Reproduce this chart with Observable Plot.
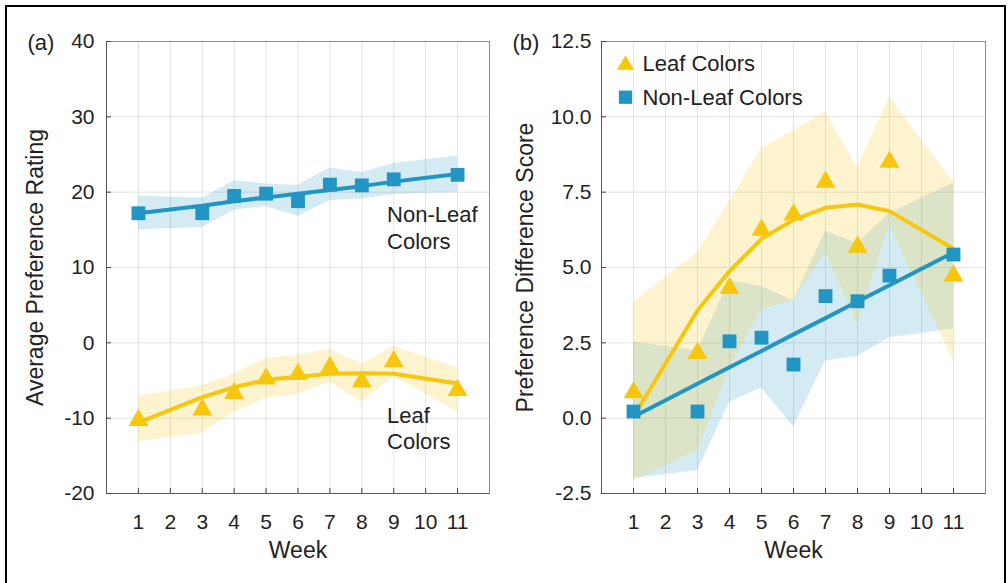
<!DOCTYPE html>
<html><head><meta charset="utf-8">
<script src="https://cdn.jsdelivr.net/npm/d3@7"></script>
<script src="https://cdn.jsdelivr.net/npm/@observablehq/plot@0.6"></script>
<style>
body{margin:0;background:#fff;}
#wrap{position:relative;width:1008px;height:583px;overflow:hidden;background:#fff;}
#border{position:absolute;left:5px;top:5px;width:997px;height:600px;border:2px solid #000;border-bottom:none;}
.panel{position:absolute;top:0;}
</style></head><body>
<div id="wrap"><div id="border"></div><div id="pa" class="panel" style="left:0px"></div><div id="pb" class="panel" style="left:500px"></div></div>
<script>
// ---- data ----
const weeks = [1, 3, 4, 5, 6, 7, 8, 9, 11];
const weekTicks = [1, 2, 3, 4, 5, 6, 7, 8, 9, 10, 11];
const ratingTicks = [-20, -10, 0, 10, 20, 30, 40];
const diffTicks = [-2.5, 0, 2.5, 5, 7.5, 10, 12.5];

// Panel (a): average preference rating
const ratingLeaf       = [-9.9, -8.5, -6.3, -4.4, -3.8, -2.9, -4.8, -2.1, -5.9];
const ratingLeafFit    = [-10.6, -7.2, -5.9, -4.9, -4.5, -4.1, -4.05, -4.1, -5.4];
const ratingLeafLow    = [-13.1, -12.0, -9.2, -7.4, -6.8, -5.2, -7.9, -4.5, -9.1];
const ratingLeafHigh   = [-7.1, -5.7, -4.1, -2.1, -1.6, -0.9, -2.8, -0.5, -3.3];
const ratingNonLeaf    = [17.2, 17.2, 19.5, 19.8, 18.8, 21.0, 20.9, 21.7, 22.3];
const ratingNonLeafFit = [17.2, 18.2, 18.8, 19.3, 19.8, 20.3, 20.8, 21.4, 22.4];
const ratingNonLeafLow = [15.0, 15.3, 17.6, 18.1, 16.8, 18.9, 19.1, 19.7, 20.0];
const ratingNonLeafHigh= [19.5, 19.2, 21.5, 21.1, 20.9, 23.2, 22.6, 23.8, 24.8];

// Panel (b): preference difference score
const diffLeaf       = [0.95, 2.25, 4.41, 6.34, 6.85, 7.93, 5.78, 8.6, 4.82];
const diffLeafFit    = [0.05, 3.57, 4.88, 5.95, 6.58, 6.98, 7.09, 6.87, 5.62];
const diffLeafLow    = [-2.07, -1.07, 1.64, 3.6, 3.9, 5.5, 3.13, 6.4, 1.91];
const diffLeafHigh   = [3.85, 5.5, 7.2, 8.94, 9.55, 10.15, 8.33, 10.65, 7.83];
const diffNonLeaf    = [0.22, 0.22, 2.55, 2.67, 1.78, 4.05, 3.88, 4.73, 5.43];
const diffNonLeafFit = [0.05, 1.14, 1.69, 2.23, 2.78, 3.32, 3.87, 4.41, 5.5];
const diffNonLeafLow = [-2.0, -1.74, 0.53, 1.0, -0.28, 1.9, 2.05, 2.67, 2.96];
const diffNonLeafHigh= [2.52, 2.24, 4.57, 4.37, 3.9, 6.2, 5.8, 6.8, 7.8];

// ---- styling ----
const YEL = "#f7c70f";
const BLU = "#2195c3";
const FONT = "'Liberation Sans', Arial, Helvetica, sans-serif";
const TXT = "#222";

const tri = {
  draw(context, size) {
    const s = Math.sqrt(size * 4 / Math.sqrt(3));
    const h = s * Math.sqrt(3) / 2;
    context.moveTo(0, -h / 2);
    context.lineTo(s / 2, h / 2);
    context.lineTo(-s / 2, h / 2);
    context.closePath();
  }
};

function table(leaf, leafFit, leafLow, leafHigh, non, nonFit, nonLow, nonHigh) {
  return weeks.map((w, i) => ({
    week: w, leaf: leaf[i], leafFit: leafFit[i], leafLow: leafLow[i], leafHigh: leafHigh[i],
    non: non[i], nonFit: nonFit[i], nonLow: nonLow[i], nonHigh: nonHigh[i]
  }));
}
const dataA = table(ratingLeaf, ratingLeafFit, ratingLeafLow, ratingLeafHigh, ratingNonLeaf, ratingNonLeafFit, ratingNonLeafLow, ratingNonLeafHigh);
const dataB = table(diffLeaf, diffLeafFit, diffLeafLow, diffLeafHigh, diffNonLeaf, diffNonLeafFit, diffNonLeafLow, diffNonLeafHigh);

function panel({data, yDomain, yTicks, yFormat, marginLeft, marginRight, tickPad, ylabel, ylabelDx, tag, tagDx, extra}) {
  const fw = 500 - marginLeft - marginRight;
  const fh = 583 - 41 - 90;
  return Plot.plot({
    width: 500, height: 583,
    marginLeft, marginRight, marginTop: 41, marginBottom: 90,
    x: {domain: [0, 12]},
    y: {domain: yDomain},
    style: {fontFamily: FONT, fontSize: "21px", color: TXT, background: "transparent", overflow: "visible"},
    marks: [
      Plot.gridX(weekTicks, {stroke: "#e3e3e3", strokeOpacity: 1}),
      Plot.gridY(yTicks, {stroke: "#e3e3e3", strokeOpacity: 1}),
      Plot.areaY(data, {x: "week", y1: "nonLow", y2: "nonHigh", fill: BLU, fillOpacity: 0.19}),
      Plot.areaY(data, {x: "week", y1: "leafLow", y2: "leafHigh", fill: YEL, fillOpacity: 0.2}),
      Plot.frame({stroke: "#8a8a8a"}),
      Plot.ruleX([0], {stroke: "#5a5a5a"}),
      Plot.ruleY([yDomain[0]], {stroke: "#5a5a5a"}),
      Plot.tickX(weekTicks, {x: d => d, insetTop: fh - 5, stroke: "#444"}),
      Plot.tickY(yTicks, {y: d => d, insetRight: fw - 5, stroke: "#444"}),
      Plot.axisX(weekTicks, {tickSize: 0, tickPadding: 21, tickFormat: d => String(d), label: null, fill: TXT}),
      Plot.axisY(yTicks, {tickSize: 0, tickPadding: tickPad, tickFormat: yFormat, label: null, fill: TXT}),
      Plot.line(data, {x: "week", y: "leafFit", stroke: YEL, strokeWidth: 4, strokeLinecap: "butt"}),
      Plot.line(data, {x: "week", y: "nonFit", stroke: BLU, strokeWidth: 4, strokeLinecap: "butt"}),
      Plot.dot(data, {x: "week", y: "leaf", symbol: tri, r: 7.4, fill: YEL}),
      Plot.dot(data, {x: "week", y: "non", symbol: "square", r: 7.8, fill: BLU}),
      Plot.text(["Week"], {frameAnchor: "bottom", dy: 57, textAnchor: "middle", lineAnchor: "middle", fontSize: 23, fill: TXT}),
      Plot.text([ylabel], {frameAnchor: "left", dx: ylabelDx, rotate: -90, textAnchor: "middle", lineAnchor: "middle", fontSize: 23, fill: TXT}),
      Plot.text([tag], {frameAnchor: "top-left", dx: tagDx, dy: 1, textAnchor: "start", lineAnchor: "middle", fontSize: 22, fill: TXT}),
      ...extra
    ]
  });
}

document.getElementById("pa").append(panel({
  data: dataA, yDomain: [-20, 40], yTicks: ratingTicks, yFormat: d => String(d),
  marginLeft: 106, marginRight: 11, tickPad: 12,
  ylabel: "Average Preference Rating", ylabelDx: -70.5, tag: "(a)", tagDx: -79,
  extra: [
    Plot.text([{x: 8.79, y: 15.4, t: "Non-Leaf\nColors"}], {x: "x", y: "y", text: "t", textAnchor: "start", lineAnchor: "middle", lineHeight: 1.22, fontSize: 22, fill: TXT}),
    Plot.text([{x: 8.79, y: -11.3, t: "Leaf\nColors"}], {x: "x", y: "y", text: "t", textAnchor: "start", lineAnchor: "middle", lineHeight: 1.15, fontSize: 22, fill: TXT})
  ]
}));

document.getElementById("pb").append(panel({
  data: dataB, yDomain: [-2.5, 12.5], yTicks: diffTicks, yFormat: d => d.toFixed(1),
  marginLeft: 101, marginRight: 15, tickPad: 10,
  ylabel: "Preference Difference Score", ylabelDx: -75.5, tag: "(b)", tagDx: -89,
  extra: [
    Plot.dot([0], {frameAnchor: "top-left", dx: 24, dy: 21, symbol: tri, r: 6.3, fill: YEL}),
    Plot.text(["Leaf Colors"], {frameAnchor: "top-left", dx: 41, dy: 22.5, textAnchor: "start", lineAnchor: "middle", fontSize: 22, fill: TXT}),
    Plot.dot([0], {frameAnchor: "top-left", dx: 24, dy: 55.7, symbol: "square", r: 7.5, fill: BLU}),
    Plot.text(["Non-Leaf Colors"], {frameAnchor: "top-left", dx: 41, dy: 56.5, textAnchor: "start", lineAnchor: "middle", fontSize: 22, fill: TXT})
  ]
}));
</script>
</body></html>
